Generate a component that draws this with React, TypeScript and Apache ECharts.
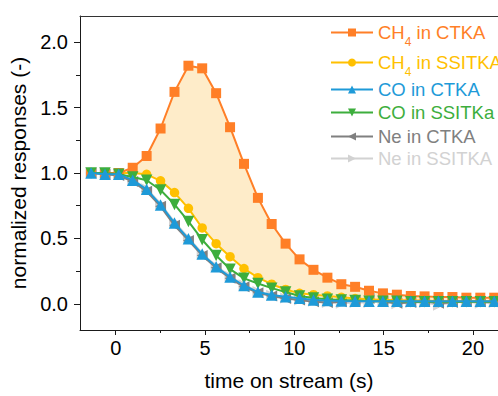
import React, { useEffect, useRef } from "react";
import * as echarts from "echarts";

const time = [-1.38, -0.6, 0.17, 0.95, 1.73, 2.51, 3.29, 4.07, 4.84, 5.62, 6.4, 7.18, 7.96, 8.73, 9.51, 10.29, 11.07, 11.85, 12.63, 13.4, 14.18, 14.96, 15.74, 16.52, 17.29, 18.07, 18.85, 19.63, 20.41, 21.19];

const ch4Ctka = [1.0, 1.0, 1.0, 1.04, 1.13, 1.34, 1.62, 1.82, 1.8, 1.61, 1.35, 1.07, 0.81, 0.61, 0.46, 0.34, 0.26, 0.2, 0.15, 0.13, 0.1, 0.08, 0.07, 0.06, 0.057, 0.052, 0.052, 0.047, 0.047, 0.047];
const ch4Ssitka = [1.0, 1.0, 1.0, 1.0, 0.99, 0.94, 0.85, 0.73, 0.58, 0.46, 0.36, 0.27, 0.2, 0.15, 0.11, 0.08, 0.07, 0.06, 0.05, 0.04, 0.035, 0.03, 0.03, 0.025, 0.025, 0.02, 0.02, 0.02, 0.02, 0.02];
const coCtka = [1.0, 0.99, 0.99, 0.945, 0.875, 0.756, 0.617, 0.497, 0.38, 0.283, 0.205, 0.14, 0.09, 0.067, 0.054, 0.042, 0.03, 0.025, 0.022, 0.02, 0.02, 0.02, 0.02, 0.02, 0.02, 0.02, 0.02, 0.02, 0.02, 0.02];
const coSsitka = [1.0, 1.0, 0.99, 0.97, 0.945, 0.87, 0.76, 0.63, 0.49, 0.37, 0.265, 0.195, 0.155, 0.12, 0.09, 0.06, 0.045, 0.035, 0.03, 0.025, 0.02, 0.02, 0.02, 0.015, 0.015, 0.015, 0.015, 0.015, 0.015, 0.015];
const neCtka = [1.0, 0.99, 0.98, 0.935, 0.86, 0.745, 0.6, 0.485, 0.37, 0.275, 0.195, 0.13, 0.085, 0.06, 0.04, 0.03, 0.015, 0.01, 0.015, 0.025, 0.04, 0.015, 0.005, 0.01, 0.02, 0.005, 0.01, 0.02, 0.015, 0.01];
const neSsitka = [1.0, 1.0, 0.99, 0.95, 0.88, 0.765, 0.625, 0.505, 0.385, 0.29, 0.21, 0.145, 0.095, 0.065, 0.045, 0.03, 0.02, 0.01, 0.005, 0.01, 0.01, 0.02, 0.0, 0.01, 0.01, -0.01, 0.01, 0.015, 0.005, 0.01];

const xMajorTicks = [0, 5, 10, 15, 20];
const xMinorTicks = [2.5, 7.5, 12.5, 17.5];
const yMajorTicks = [0, 0.5, 1.0, 1.5, 2.0];
const yMinorTicks = [0.25, 0.75, 1.25, 1.75];

const seriesNames = ["CH4 in CTKA", "CH4 in SSITKA", "CO in CTKA", "CO in SSITKa", "Ne in CTKA", "Ne in SSITKA"];

const FONT = '"Liberation Sans", Arial, Helvetica, sans-serif';
const C_ORANGE = "#FF7F27";
const C_YELLOW = "#FFC000";
const C_BLUE = "#1E9AD8";
const C_GREEN = "#3DAE3D";
const C_GRAY = "#808080";
const C_LGRAY = "#D2D2D2";
const C_FILL = "#FEECC9";

const X_MIN = -2;
const X_MAX = 21.4;
const Y_MIN = -0.2;
const Y_MAX = 2.2;

function pts(ys: number[]) {
  return time.map((t, i) => [t, ys[i]]);
}

export default function App() {
  const ref = useRef<HTMLDivElement>(null);
  useEffect(() => {
    if (!ref.current) return;
    const chart = echarts.init(ref.current, undefined, { renderer: "svg" });

    const lineSeries = (
      name: string,
      ys: number[],
      color: string,
      symbol: string,
      size: number,
      rotate: number,
      z: number
    ) => ({
      type: "line",
      name,
      data: pts(ys),
      color,
      symbol,
      symbolSize: size,
      symbolRotate: rotate,
      lineStyle: { color, width: 2 },
      itemStyle: { color },
      z,
      silent: true,
    });

    const colors = [C_ORANGE, C_YELLOW, C_BLUE, C_GREEN, C_GRAY, C_LGRAY];
    const legendTops = [23, 53, 80, 103, 127, 149];

    const legends = seriesNames.map((n, i) => ({
      data: [n],
      left: 330,
      top: legendTops[i],
      padding: 0,
      itemWidth: 42,
      itemHeight: 10,
      selectedMode: false,
      formatter: (name: string) =>
        name.startsWith("CH4")
          ? "{a|CH}{b|4}{a|" + name.slice(3) + "}"
          : "{a|" + name + "}",
      textStyle: {
        color: colors[i],
        fontSize: 18.5,
        fontFamily: FONT,
        rich: {
          a: { fontSize: 18.5, lineHeight: 30, verticalAlign: "middle", color: colors[i], fontFamily: FONT },
          b: { fontSize: 12, lineHeight: 30, verticalAlign: "bottom", color: colors[i], fontFamily: FONT },
        },
      },
    }));

    const option: any = {
      animation: false,
      backgroundColor: "#fff",
      textStyle: { fontFamily: FONT },
      grid: { left: 80, top: 16, right: 0, bottom: 60.5, containLabel: false },
      legend: legends,
      xAxis: [
        {
          type: "value",
          min: X_MIN,
          max: X_MAX,
          position: "bottom",
          axisLine: { show: true, onZero: false, lineStyle: { color: "#1a1a1a", width: 1 } },
          axisTick: { show: true, inside: false, length: 5, customValues: xMajorTicks, lineStyle: { color: "#1a1a1a" } },
          axisLabel: { customValues: xMajorTicks, fontSize: 20, color: "#000", margin: 8, fontFamily: FONT },
          splitLine: { show: false },
          name: "time on stream (s)",
          nameLocation: "middle",
          nameGap: 40,
          nameTextStyle: { fontSize: 21, color: "#000", fontFamily: FONT },
        },
        {
          type: "value",
          min: X_MIN,
          max: X_MAX,
          position: "bottom",
          axisLine: { show: false, onZero: false },
          axisTick: { show: true, inside: false, length: 3, customValues: xMinorTicks, lineStyle: { color: "#1a1a1a" } },
          axisLabel: { show: false },
          splitLine: { show: false },
        },
        {
          type: "value",
          min: X_MIN,
          max: X_MAX,
          position: "top",
          axisLine: { show: true, onZero: false, lineStyle: { color: "#333", width: 1 } },
          axisTick: { show: false },
          axisLabel: { show: false },
          splitLine: { show: false },
        },
      ],
      yAxis: [
        {
          type: "value",
          min: Y_MIN,
          max: Y_MAX,
          position: "left",
          axisLine: { show: true, onZero: false, lineStyle: { color: "#1a1a1a", width: 1 } },
          axisTick: { show: true, inside: false, length: 6, customValues: yMajorTicks, lineStyle: { color: "#1a1a1a" } },
          axisLabel: {
            customValues: yMajorTicks,
            fontSize: 20,
            color: "#000",
            margin: 12,
            fontFamily: FONT,
            formatter: (v: number) => v.toFixed(1),
          },
          splitLine: { show: false },
          name: "normalized responses (-)",
          nameLocation: "middle",
          nameGap: 50,
          nameTextStyle: { fontSize: 21, color: "#000", fontFamily: FONT },
        },
        {
          type: "value",
          min: Y_MIN,
          max: Y_MAX,
          position: "left",
          axisLine: { show: false, onZero: false },
          axisTick: { show: true, inside: false, length: 4, customValues: yMinorTicks, lineStyle: { color: "#1a1a1a" } },
          axisLabel: { show: false },
          splitLine: { show: false },
        },
      ],
      series: [
        {
          type: "custom",
          name: "fill",
          silent: true,
          clip: true,
          z: 1,
          data: [[time[0], ch4Ctka[0]]],
          renderItem: (params: any, api: any) => {
            const upper = time.map((t, i) => api.coord([t, ch4Ctka[i]]));
            const lower = time.map((t, i) => api.coord([t, ch4Ssitka[i]])).reverse();
            return {
              type: "polygon",
              shape: { points: upper.concat(lower) },
              style: { fill: C_FILL, stroke: "none" },
            };
          },
        },
        lineSeries(seriesNames[5], neSsitka, C_LGRAY, "triangle", 11, -90, 2),
        lineSeries(seriesNames[4], neCtka, C_GRAY, "triangle", 11, 90, 3),
        lineSeries(seriesNames[1], ch4Ssitka, C_YELLOW, "circle", 9.5, 0, 4),
        lineSeries(seriesNames[0], ch4Ctka, C_ORANGE, "rect", 10, 0, 5),
        lineSeries(seriesNames[3], coSsitka, C_GREEN, "triangle", 11.5, 180, 6),
        lineSeries(seriesNames[2], coCtka, C_BLUE, "triangle", 11.5, 0, 7),
      ],
    };
    chart.setOption(option);
    return () => chart.dispose();
  }, []);

  return (
    <div style={{ position: "fixed", left: 0, top: 0, width: 498, height: 396, overflow: "hidden", background: "#fff" }}>
      <div ref={ref} style={{ width: 498, height: 396 }} />
    </div>
  );
}
